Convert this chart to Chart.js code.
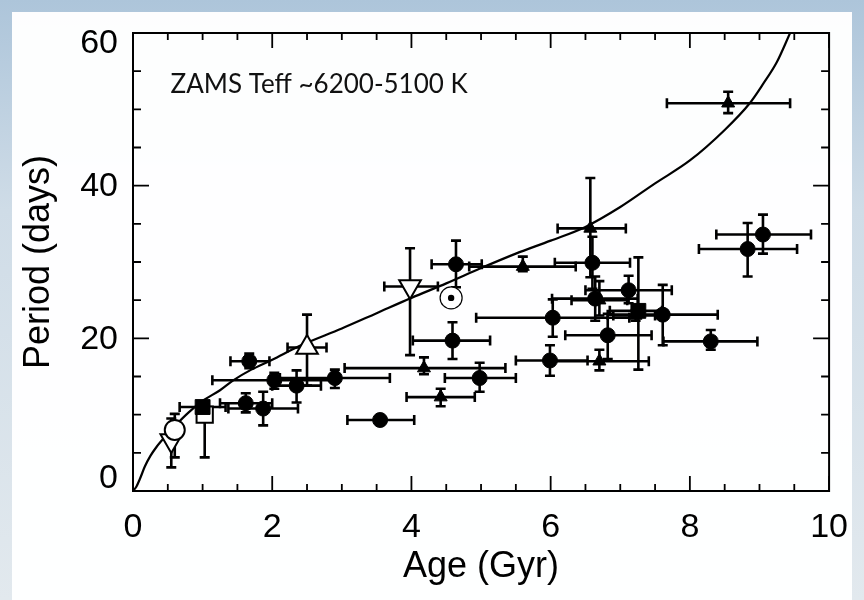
<!DOCTYPE html>
<html>
<head>
<meta charset="utf-8">
<script src="https://cdn.jsdelivr.net/npm/chart.js@4.4.1/dist/chart.umd.min.js"></script>
<style>
  html, body { margin: 0; padding: 0; width: 864px; height: 600px; overflow: hidden; }
  body { background: linear-gradient(180deg, #adc5da 0%, #cfdce7 35%, #e2e9ee 100%); position: relative; }
  #panel { position: absolute; left: 12px; top: 12px; width: 840px; height: 588px; background: rgba(255,255,255,0.97); }
  #wrap { position: absolute; left: 0; top: 0; width: 864px; height: 600px; }
</style>
</head>
<body>
<div id="panel"></div>
<div id="wrap"><canvas id="c" width="864" height="600"></canvas></div>
<script>
// ---------- data ----------
const ageTicks = [0, 2, 4, 6, 8, 10];
const ageMinor = [0.5, 1, 1.5, 2.5, 3, 3.5, 4.5, 5, 5.5, 6.5, 7, 7.5, 8.5, 9, 9.5];
const periodTicks = [0, 20, 40, 60];
const periodMinor = [5, 10, 15, 25, 30, 35, 45, 50, 55];

// model curve (age Gyr, period days)
const curveAge    = [0, 0.05, 0.1, 0.17, 0.25, 0.34, 0.48, 0.6, 0.8, 1.0, 1.25, 1.44, 1.7, 2.0, 2.39, 3.0, 3.5, 4.0, 4.5, 5.0, 5.5, 6.0, 6.5, 7.0, 7.5, 8.0, 8.5, 8.86, 9.05, 9.25, 9.44];
const curvePeriod = [0, 0.6, 1.6, 3.2, 4.6, 5.8, 7.3, 8.5, 10.3, 11.8, 13.2, 14.5, 15.9, 17.2, 19.0, 21.3, 23.3, 25.3, 27.2, 29.2, 31.1, 32.8, 34.6, 37.2, 40.3, 43.3, 47.3, 50.8, 53.3, 56.2, 60];

// filled circles
const circAge   = [1.62, 1.87, 1.67, 2.03, 2.35, 2.90, 3.55, 4.59, 4.98, 4.64, 6.60, 6.64, 7.12, 6.03, 6.82, 5.99, 7.61, 8.30, 8.83, 9.05];
const circP     = [11.5, 10.8, 17.0, 14.5, 13.8, 14.8, 9.3, 19.7, 14.8, 29.7, 29.9, 25.2, 26.3, 22.7, 20.4, 17.1, 23.1, 19.6, 31.7, 33.6];
const circAgeLo = [1.25, 1.37, 1.40, 1.14, 2.00, 2.11, 3.08, 4.02, 4.48, 4.29, 6.06, 6.02, 6.50, 4.93, 6.21, 5.50, 6.82, 7.62, 8.13, 8.38];
const circAgeHi = [2.00, 2.37, 1.96, 2.92, 2.70, 3.69, 4.04, 5.13, 5.50, 5.01, 7.14, 7.25, 7.74, 7.13, 7.45, 6.53, 8.40, 8.97, 9.54, 9.74];
const circPLo   = [10.3, 8.6, 16.1, 13.4, 11.6, 13.5, 9.0, 17.3, 13.0, 26.7, 26.5, 22.3, 24.6, 20.2, 17.3, 15.1, 19.1, 18.5, 28.1, 31.1];
const circPHi   = [12.8, 13.0, 18.0, 15.5, 15.8, 15.9, 9.6, 22.1, 16.8, 32.8, 33.3, 28.1, 28.2, 25.1, 23.2, 19.1, 27.0, 21.1, 35.1, 36.2];

// filled triangles
const triAge   = [4.18, 4.42, 5.60, 6.57, 6.70, 8.55, 6.70, 7.22];
const triP     = [16.1, 12.3, 29.4, 34.4, 17.0, 50.8, 25.0, 23.0];
const triAgeLo = [3.04, 3.93, 4.83, 6.10, 6.00, 7.67, 6.30, 6.90];
const triAgeHi = [5.35, 4.91, 6.36, 7.08, 7.41, 9.44, 7.10, 7.50];
const triPLo   = [15.3, 11.1, 28.8, 28.0, 15.8, 49.5, 23.0, 22.3];
const triPHi   = [17.5, 13.4, 30.7, 41.0, 18.5, 52.3, 27.5, 23.7];

// filled squares
const sqAge   = [1.00, 7.26];
const sqP     = [11.0, 23.6];
const sqAgeLo = [0.67, 6.85];
const sqAgeHi = [1.33, 7.60];
const sqPLo   = [10.2, 15.9];
const sqPHi   = [11.6, 30.6];

// open symbols
const openCircAge = [0.60], openCircP = [8.0], openCircAgeLo = [0.52], openCircAgeHi = [0.68], openCircPLo = [4.4], openCircPHi = [10.1];
const openSqAge = [1.03], openSqP = [10.0], openSqAgeLo = [1.03], openSqAgeHi = [1.03], openSqPLo = [4.4], openSqPHi = [11.0];
const openUpAge = [2.50], openUpP = [18.8], openUpAgeLo = [2.22], openUpAgeHi = [2.78], openUpPLo = [13.8], openUpPHi = [23.1];
const openDnAge = [3.98, 0.55], openDnP = [26.8, 6.6], openDnAgeLo = [3.61, 0.55], openDnAgeHi = [4.38, 0.55], openDnPLo = [17.8, 3.1], openDnPHi = [31.8, 9.5];
const sunAge = [4.57], sunP = [25.3];

const annotation = 'ZAMS Teff ~6200-5100 K';
const annotAge = 0.54, annotP = 52.2;

// ---------- helpers ----------
const pts = (xs, ys) => xs.map((v, i) => ({ x: v, y: ys[i] }));
const FONT = "'Liberation Sans', Arial, Helvetica, sans-serif";

function markerSet(label, xs, ys, lo, hi, plo, phi, style, radius, filled, order, rotation) {
  return {
    label, type: 'scatter', data: pts(xs, ys),
    pointStyle: style, pointRadius: radius, pointRotation: rotation || 0,
    backgroundColor: filled ? '#000' : '#fff', borderColor: '#000',
    borderWidth: filled ? 1 : 2, order,
    errX: [lo, hi], errY: [plo, phi]
  };
}

const errorBars = {
  id: 'errorBars',
  beforeDatasetsDraw(chart) {
    const { ctx, scales: { x, y } } = chart;
    ctx.save();
    ctx.strokeStyle = '#000';
    ctx.lineWidth = 2.6;
    ctx.lineCap = 'butt';
    const cap = 5;
    chart.data.datasets.forEach(ds => {
      if (!ds.errX) return;
      ds.data.forEach((p, i) => {
        const px = x.getPixelForValue(p.x), py = y.getPixelForValue(p.y);
        const x0 = x.getPixelForValue(ds.errX[0][i]), x1 = x.getPixelForValue(ds.errX[1][i]);
        const y0 = y.getPixelForValue(ds.errY[0][i]), y1 = y.getPixelForValue(ds.errY[1][i]);
        ctx.beginPath();
        if (Math.abs(x1 - x0) > 1) {
          ctx.moveTo(x0, py); ctx.lineTo(x1, py);
          ctx.moveTo(x0, py - cap); ctx.lineTo(x0, py + cap);
          ctx.moveTo(x1, py - cap); ctx.lineTo(x1, py + cap);
        }
        if (Math.abs(y1 - y0) > 1) {
          ctx.moveTo(px, y0); ctx.lineTo(px, y1);
          ctx.moveTo(px - cap, y0); ctx.lineTo(px + cap, y0);
          ctx.moveTo(px - cap, y1); ctx.lineTo(px + cap, y1);
        }
        ctx.stroke();
      });
    });
    ctx.restore();
  }
};

const frameTicks = {
  id: 'frameTicks',
  afterDatasetsDraw(chart) {
    const { ctx, chartArea: a, scales: { x, y } } = chart;
    ctx.save();
    // sun centre dot
    const sx = x.getPixelForValue(sunAge[0]), sy = y.getPixelForValue(sunP[0]);
    ctx.fillStyle = '#000';
    ctx.beginPath(); ctx.arc(sx, sy, 3.2, 0, Math.PI * 2); ctx.fill();

    ctx.strokeStyle = '#000';
    ctx.lineWidth = 1.8;
    ctx.beginPath();
    const xt = (vals, len) => vals.forEach(v => {
      const px = x.getPixelForValue(v);
      ctx.moveTo(px, a.bottom); ctx.lineTo(px, a.bottom - len);
      ctx.moveTo(px, a.top); ctx.lineTo(px, a.top + len);
    });
    const yt = (vals, len) => vals.forEach(v => {
      const py = y.getPixelForValue(v);
      ctx.moveTo(a.left, py); ctx.lineTo(a.left + len, py);
      ctx.moveTo(a.right, py); ctx.lineTo(a.right - len, py);
    });
    xt(ageTicks, 15); xt(ageMinor, 7);
    yt(periodTicks, 16); yt(periodMinor, 8);
    ctx.stroke();
    ctx.lineWidth = 2;
    ctx.strokeRect(a.left, a.top, a.right - a.left, a.bottom - a.top);

    // y tick labels (end labels kept inside the frame height, as in the figure)
    ctx.font = '34px ' + FONT;
    ctx.fillStyle = '#000';
    ctx.textAlign = 'right';
    ctx.textBaseline = 'middle';
    periodTicks.forEach(v => {
      let py = y.getPixelForValue(v);
      py = Math.max(a.top + 10, Math.min(a.bottom - 13, py));
      ctx.fillText(String(v), a.left - 15, py + 1);
    });

    // annotation
    ctx.font = "26px Lato, 'Open Sans', sans-serif";
    ctx.fillStyle = '#111';
    ctx.textBaseline = 'alphabetic';
    ctx.textAlign = 'left';
    ctx.fillText(annotation, x.getPixelForValue(annotAge), y.getPixelForValue(annotP));
    ctx.restore();
  }
};

const datasets = [
  { label: 'model', type: 'line', data: pts(curveAge, curvePeriod), borderColor: '#000', borderWidth: 2.2,
    pointRadius: 0, fill: false, cubicInterpolationMode: 'monotone', order: 10 },
  markerSet('open square', openSqAge, openSqP, openSqAgeLo, openSqAgeHi, openSqPLo, openSqPHi, 'rect', 11.5, false, 6),
  markerSet('filled squares', sqAge, sqP, sqAgeLo, sqAgeHi, sqPLo, sqPHi, 'rect', 10.5, true, 5),
  markerSet('filled circles', circAge, circP, circAgeLo, circAgeHi, circPLo, circPHi, 'circle', 7.5, true, 4),
  markerSet('filled triangles', triAge, triP, triAgeLo, triAgeHi, triPLo, triPHi, 'triangle', 7.5, true, 4),
  markerSet('open down triangles', openDnAge, openDnP, openDnAgeLo, openDnAgeHi, openDnPLo, openDnPHi, 'triangle', 12.5, false, 3, 180),
  markerSet('open up triangle', openUpAge, openUpP, openUpAgeLo, openUpAgeHi, openUpPLo, openUpPHi, 'triangle', 12.5, false, 3),
  markerSet('open circle', openCircAge, openCircP, openCircAgeLo, openCircAgeHi, openCircPLo, openCircPHi, 'circle', 10, false, 2),
  { label: 'Sun', type: 'scatter', data: pts(sunAge, sunP), pointStyle: 'circle', pointRadius: 11,
    backgroundColor: '#fff', borderColor: '#000', borderWidth: 1.2, order: 1 }
];

new Chart(document.getElementById('c'), {
  type: 'scatter',
  data: { datasets },
  options: {
    responsive: false,
    animation: false,
    events: [],
    layout: { padding: { top: 33, right: 33, left: 0, bottom: 0 } },
    plugins: { legend: { display: false }, tooltip: { enabled: false } },
    scales: {
      x: {
        type: 'linear', min: 0, max: 10,
        afterBuildTicks: s => { s.ticks = ageTicks.map(v => ({ value: v })); },
        afterFit: s => { s.height = 109; },
        grid: { display: false, drawTicks: false },
        border: { display: false },
        ticks: { color: '#000', font: { family: FONT, size: 34 }, padding: 16, maxRotation: 0 },
        title: { display: true, text: 'Age (Gyr)', color: '#000', font: { family: FONT, size: 36 }, padding: { top: 0, bottom: 11 } }
      },
      y: {
        type: 'linear', min: 0, max: 60,
        afterBuildTicks: s => { s.ticks = periodTicks.map(v => ({ value: v })); },
        afterFit: s => { s.width = 133; },
        grid: { display: false, drawTicks: false },
        border: { display: false },
        ticks: { display: false },
        title: { display: true, text: 'Period (days)', color: '#000', font: { family: FONT, size: 36 }, padding: { top: 17, bottom: 0 } }
      }
    }
  },
  plugins: [errorBars, frameTicks]
});
</script>
</body>
</html>
